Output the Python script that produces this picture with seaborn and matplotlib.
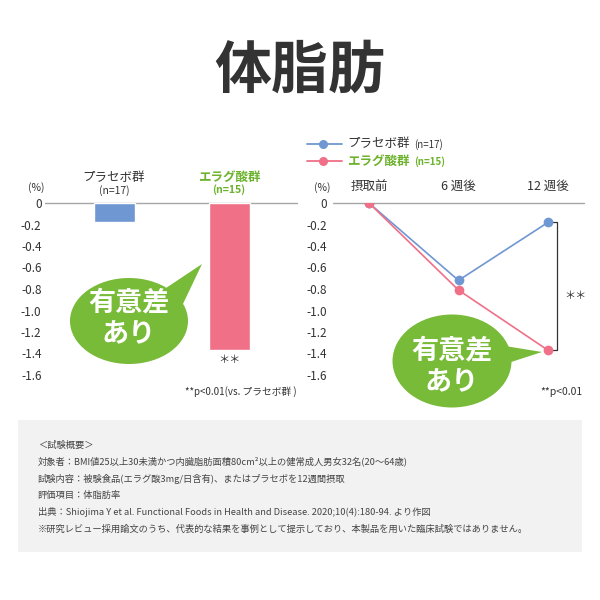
import pandas as pd
import matplotlib
matplotlib.use("Agg")
import matplotlib.pyplot as plt
import seaborn as sns
from matplotlib.patches import Ellipse, Polygon, Rectangle
from matplotlib.lines import Line2D

# ------------------ Data ------------------

groups = ["プラセボ群", "エラグ酸群"]
group_n = ["(n=17)", "(n=15)"]
change_12w = [-0.18, -1.37]

weeks = [0, 6, 12]
week_labels = ["摂取前", "6 週後", "12 週後"]
placebo_series = [0.0, -0.72, -0.18]
ellagic_series = [0.0, -0.81, -1.37]

yticks = [0, -0.2, -0.4, -0.6, -0.8, -1.0, -1.2, -1.4, -1.6]
ytick_labels = ["0", "-0.2", "-0.4", "-0.6", "-0.8", "-1.0", "-1.2", "-1.4", "-1.6"]

notes = [
    "＜試験概要＞",
    "対象者：BMI値25以上30未満かつ内臓脂肪面積80cm²以上の健常成人男女32名(20～64歳)",
    "試験内容：被験食品(エラグ酸3mg/日含有)、またはプラセボを12週間摂取",
    "評価項目：体脂肪率",
    "出典：Shiojima Y et al. Functional Foods in Health and Disease. 2020;10(4):180-94. より作図",
    "※研究レビュー採用論文のうち、代表的な結果を事例として提示しており、本製品を用いた臨床試験ではありません。",
]

BLUE = "#6f97d1"
PINK = "#ef7087"
GREEN = "#78bb38"
GREEN_TXT = "#6cb22c"
DARK = "#333333"

sns.set_style("white")
plt.rcParams["font.family"] = ["Noto Sans CJK JP", "DejaVu Sans"]

fig = plt.figure(figsize=(6, 6), dpi=100)


def px_axes(x0, x1, ytop, ybot):
    return fig.add_axes([x0 / 600, (600 - ybot) / 600, (x1 - x0) / 600, (ybot - ytop) / 600])


def style_axis(ax):
    for s in ax.spines.values():
        s.set_visible(False)
    ax.set_ylim(-1.6, 0)
    ax.set_yticks(yticks)
    ax.set_yticklabels(ytick_labels)
    ax.tick_params(axis="y", length=0, pad=2.5, labelsize=8.5, labelcolor=DARK)
    ax.axhline(0, color="#a6a6a6", lw=1, clip_on=False, zorder=1)
    ax.set_xlabel("")
    ax.set_ylabel("")
    ax.patch.set_alpha(0)


# ----------------- Bar chart -----------------

ax1 = px_axes(45, 297, 203, 375)
bar_df = pd.DataFrame({"group": groups, "change": change_12w})
sns.barplot(data=bar_df, x="group", y="change", hue="group",
            palette=[BLUE, PINK], saturation=1, width=0.36, legend=False,
            ax=ax1, zorder=2)
ax1.set_xlim(-0.604, 1.587)
style_axis(ax1)
ax1.set_xticks([])

# ----------------- Line chart -----------------

ax2 = px_axes(333, 584, 203, 375)
line_df = pd.DataFrame({
    "week": weeks * 2,
    "value": placebo_series + ellagic_series,
    "group": [groups[0]] * 3 + [groups[1]] * 3,
})
sns.lineplot(data=line_df, x="week", y="value", hue="group",
             palette=[BLUE, PINK], marker="o", markersize=7,
             markeredgewidth=0, linewidth=1.2, legend=False, ax=ax2, zorder=3)
ax2.set_xlim(-2.41, 14.41)
style_axis(ax2)
ax2.tick_params(axis="y", pad=4.5)
ax2.xaxis.tick_top()
ax2.set_xticks(weeks)
ax2.set_xticklabels(week_labels)
ax2.tick_params(axis="x", length=0, pad=7, labelsize=9, labelcolor=DARK)

# significance bracket
bx0, bx1 = 12.13, 12.6
ax2.plot([bx0, bx1, bx1, bx0],
         [placebo_series[-1], placebo_series[-1], ellagic_series[-1], ellagic_series[-1]],
         color="#333333", lw=0.9, clip_on=False, zorder=2)

# ----------------- Overlay (text, bubbles) -----------------

ov = fig.add_axes([0, 0, 1, 1])
ov.set_xlim(0, 600)
ov.set_ylim(600, 0)
ov.axis("off")
ov.patch.set_alpha(0)

ov.text(300, 71, "体脂肪", ha="center", va="center", fontsize=41,
        fontweight="bold", color=DARK)

# bar chart headers
ov.text(114, 178, groups[0], ha="center", va="center", fontsize=9, color=DARK)
ov.text(114, 191, group_n[0], ha="center", va="center", fontsize=7.5, color=DARK)
ov.text(229, 177, groups[1], ha="center", va="center", fontsize=9,
        fontweight="bold", color=GREEN_TXT)
ov.text(229, 190, group_n[1], ha="center", va="center", fontsize=7.5,
        fontweight="bold", color=GREEN_TXT)
ov.text(36, 188, "(%)", ha="center", va="center", fontsize=7.5, color=DARK)
ov.text(229, 360, "＊＊", ha="center", va="center", fontsize=8, color=DARK)
ov.text(297, 392, "**p<0.01(vs. プラセボ群 )", ha="right", va="center",
        fontsize=7, color=DARK)

# line chart legend
for yy, col in [(144, BLUE), (161, PINK)]:
    ov.add_line(Line2D([307, 342], [yy, yy], color=col, lw=1.3))
    ov.plot([323], [yy], "o", color=col, markersize=6.5, markeredgewidth=0)
ov.text(347, 144, groups[0], ha="left", va="center", fontsize=9, color=DARK)
ov.text(414, 145, group_n[0], ha="left", va="center", fontsize=7, color=DARK)
ov.text(347, 161, groups[1], ha="left", va="center", fontsize=9,
        fontweight="bold", color=GREEN_TXT)
ov.text(414, 162, group_n[1], ha="left", va="center", fontsize=7,
        fontweight="bold", color=GREEN_TXT)
ov.text(322, 188, "(%)", ha="center", va="center", fontsize=7.5, color=DARK)
ov.text(575, 296, "＊＊", ha="center", va="center", fontsize=8, color=DARK)
ov.text(582, 392, "**p<0.01", ha="right", va="center", fontsize=7.5, color=DARK)


def bubble(cx, cy, w, h, tail, ty1, ty2):
    ov.add_patch(Polygon(tail, closed=True, color=GREEN, lw=0, zorder=5))
    ov.add_patch(Ellipse((cx, cy), w, h, color=GREEN, lw=0, zorder=5))
    ov.text(cx, ty1, "有意差", ha="center", va="center", fontsize=19.5,
            fontweight="bold", color="white", zorder=6)
    ov.text(cx, ty2, "あり", ha="center", va="center", fontsize=19.5,
            fontweight="bold", color="white", zorder=6)


bubble(129, 321, 118, 86, [(160, 292), (202, 264), (182, 306)], 302, 334)
bubble(452, 361, 119, 93, [(505, 346), (542, 352), (508, 363)], 350, 382)

# footnote box
ov.add_patch(Rectangle((18, 420), 564, 132, color="#f2f2f2", lw=0, zorder=0))
for i, line in enumerate(notes):
    ov.text(38, 445 + i * 16.8, line, ha="left", va="center", fontsize=6.7,
            color="#444444")

fig.savefig("out.png", dpi=100)
